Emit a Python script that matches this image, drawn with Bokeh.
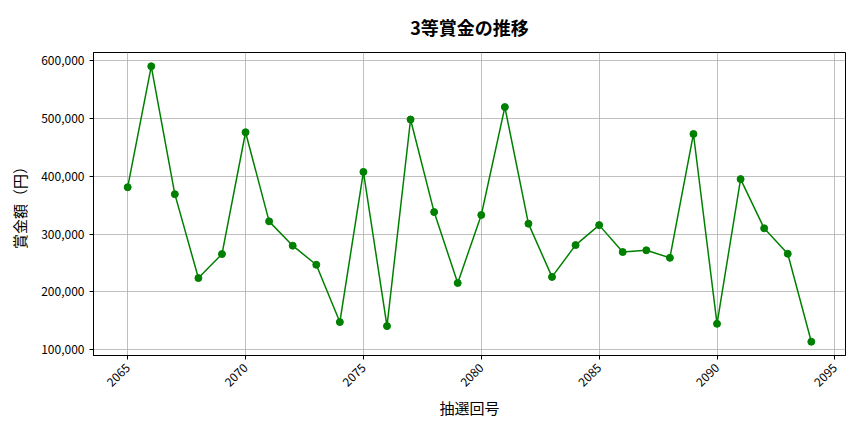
"""
3等賞金の推移 - Bokeh line chart with markers
"""

from math import pi

from bokeh.plotting import figure
from bokeh.models import FixedTicker, NumeralTickFormatter, Range1d
from bokeh.embed import file_html
from bokeh.resources import INLINE

# data
draws = list(range(2065, 2095))
prizes = [381000, 590000, 369000, 224000, 265500, 476000, 322000, 280000,
          247000, 148000, 407500, 141000, 498000, 338000, 215500, 333000,
          519500, 318000, 226000, 281000, 315500, 269000, 272000, 259000,
          473000, 145000, 395000, 310000, 266000, 114000]
x_ticks = [2065, 2070, 2075, 2080, 2085, 2090, 2095]
y_ticks = [100000, 200000, 300000, 400000, 500000, 600000]

FONT = "Noto Sans CJK JP"

# padding like matplotlib (5%)
xpad = (max(draws) - min(draws)) * 0.05
ypad = (max(prizes) - min(prizes)) * 0.05

p = figure(width=848, height=416, output_backend="svg", toolbar_location=None,
           x_range=Range1d(min(draws) - xpad, max(draws) + xpad),
           y_range=Range1d(min(prizes) - ypad, max(prizes) + ypad),
           frame_width=752, frame_height=303,
           min_border_left=93, min_border_top=52, min_border_right=3,
           min_border_bottom=61)

p.title.text = "3等賞金の推移"
p.title.align = "center"
p.title.vertical_align = "top"
p.title.text_font = FONT
p.title.text_font_size = "18px"
p.title.text_font_style = "bold"
p.title.text_color = "black"
p.title.offset = 0
p.title.standoff = 21

p.line(draws, prizes, line_color="green", line_width=1.5)
p.scatter(draws, prizes, size=7, fill_color="green", line_color="green")

p.xaxis.ticker = FixedTicker(ticks=x_ticks)
p.yaxis.ticker = FixedTicker(ticks=y_ticks)
p.yaxis.formatter = NumeralTickFormatter(format="0,0")
p.xaxis.major_label_orientation = pi / 4

p.xaxis.axis_label = "抽選回号"
p.yaxis.axis_label = "賞金額（円）"

for ax in (p.xaxis, p.yaxis):
    ax.axis_label_text_font = FONT
    ax.axis_label_text_font_size = "15px"
    ax.axis_label_text_font_style = "normal"
    ax.axis_label_text_color = "black"
    ax.major_label_text_font = FONT
    ax.major_label_text_font_size = "12px"
    ax.major_label_text_color = "black"
    ax.axis_line_color = "black"
    ax.major_tick_line_color = "black"
    ax.major_tick_out = 4
    ax.major_tick_in = 0
    ax.minor_tick_line_color = None

p.xaxis.major_label_standoff = 6
p.xaxis.axis_label_standoff = 3
p.yaxis.axis_label_standoff = 8

p.grid.grid_line_color = "#b0b0b0"
p.grid.grid_line_width = 0.8
p.outline_line_color = "black"
p.outline_line_alpha = 1
p.outline_line_width = 1

open("out.html", "w").write(file_html(p, INLINE))
